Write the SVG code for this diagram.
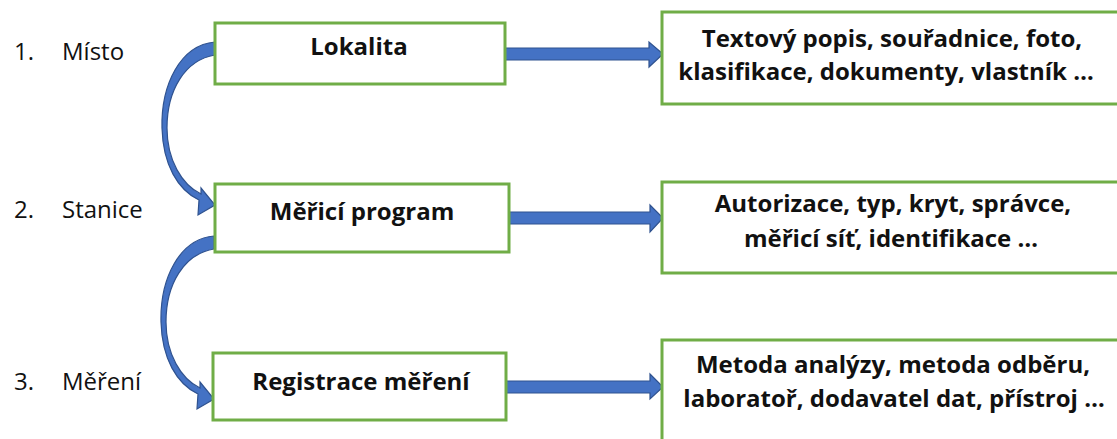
<svg xmlns="http://www.w3.org/2000/svg" width="1117" height="439" viewBox="0 0 1117 439">
<style>
.box{fill:#fff;stroke:#70AD47;stroke-width:3}
.arr{fill:#4472C4;stroke:#2F528F;stroke-width:1.2;stroke-linejoin:miter}
.lbl{font-family:"Open Sans","Liberation Sans",sans-serif;font-size:24px;fill:#111}
.b{font-family:"Open Sans","Liberation Sans",sans-serif;font-weight:bold;font-size:24px;fill:#111;text-anchor:middle}
</style>
<rect width="1117" height="439" fill="#fff"/>
<g id="labels">
<text class="lbl" x="14" y="60">1.</text><text class="lbl" x="62" y="60">Místo</text>
<text class="lbl" x="14" y="218">2.</text><text class="lbl" x="62" y="218">Stanice</text>
<text class="lbl" x="14" y="390">3.</text><text class="lbl" x="62" y="390">Měření</text>
</g>
<g id="connectors">
<path id="curve1" class="arr" d="M215 42 C180 45 161 85 162 128 C163 165 178 190 199 200 L198 215 L215 205 L201 188 L201 194 C182 185 167 160 167 128 C167 90 185 60 215 55 Z"/>
<path id="curve2" class="arr" transform="translate(-1 194)" d="M215 42 C180 45 161 85 162 128 C163 165 178 190 199 200 L198 215 L215 205 L201 188 L201 194 C182 185 167 160 167 128 C167 90 185 60 215 55 Z"/>
<path id="arrow1" class="arr" d="M505 48 H649 V42 L663 54 L649 67 V60 H505 Z"/>
<path id="arrow2" class="arr" d="M508 212 H650 V205 L663 218 L650 232 V224 H508 Z"/>
<path id="arrow3" class="arr" d="M506 381 H650 V374 L663 387 L650 399 V393 H506 Z"/>
</g>
<g id="node-lokalita"><rect class="box" x="215" y="23" width="290" height="61"/><text class="b" x="359" y="55">Lokalita</text></g>
<g id="node-program"><rect class="box" x="215" y="184" width="294" height="68"/><text class="b" x="362" y="220">Měřicí program</text></g>
<g id="node-registrace"><rect class="box" x="213" y="353" width="293" height="67"/><text class="b" x="361" y="390">Registrace měření</text></g>
<g id="node-info1"><rect class="box" x="662" y="12" width="470" height="92"/><text class="b" x="892" y="47">Textový popis, souřadnice, foto,</text><text class="b" x="886" y="80">klasifikace, dokumenty, vlastník …</text></g>
<g id="node-info2"><rect class="box" x="662" y="182" width="470" height="91"/><text class="b" x="893" y="212">Autorizace, typ, kryt, správce,</text><text class="b" x="891" y="247">měřicí síť, identifikace …</text></g>
<g id="node-info3"><rect class="box" x="662" y="340" width="470" height="120"/><text class="b" x="893" y="373">Metoda analýzy, metoda odběru,</text><text class="b" x="894" y="407">laboratoř, dodavatel dat, přístroj …</text></g>
</svg>
